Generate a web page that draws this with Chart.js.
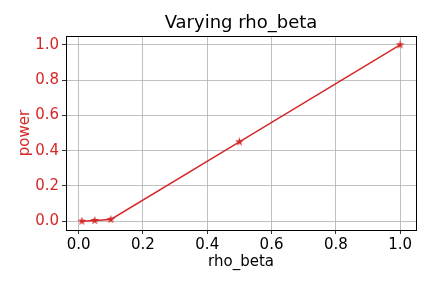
<!DOCTYPE html>
<html>
<head>
<meta charset="utf-8">
<script src="https://cdn.jsdelivr.net/npm/chart.js@4"></script>
<style>
    body { margin: 0; background: #ffffff; }
    #wrap { width: 432px; height: 288px; }
</style>
</head>
<body>
<div id="wrap"><canvas id="myChart" width="432" height="288"></canvas></div>
<script>
let rhoBeta = [0.01, 0.05, 0.1, 0.5, 1.0];
let power = [0.0, 0.004, 0.01, 0.45, 1.0];
let xTicks = [0.0, 0.2, 0.4, 0.6, 0.8, 1.0];
let yTicks = [0.0, 0.2, 0.4, 0.6, 0.8, 1.0];

let red = '#d62728';
let fontName = 'DejaVu Sans';

function makeStar(size, color) {
    let c = document.createElement('canvas');
    c.width = size;
    c.height = size;
    let g = c.getContext('2d');
    let cx = size / 2, cy = size / 2;
    let outer = size / 2, inner = outer * 0.38;
    g.beginPath();
    for (let k = 0; k < 10; k++) {
        let r = k % 2 == 0 ? outer : inner;
        let a = -Math.PI / 2 + k * Math.PI / 5;
        let px = cx + r * Math.cos(a);
        let py = cy + r * Math.sin(a);
        if (k == 0) g.moveTo(px, py); else g.lineTo(px, py);
    }
    g.closePath();
    g.fillStyle = color;
    g.fill();
    return c;
}

// frame around the plot area like matplotlib axes spines
let frame = {
    id: 'frame',
    afterDatasetsDraw(chart) {
        let a = chart.chartArea;
        let ctx = chart.ctx;
        ctx.save();
        ctx.strokeStyle = '#000000';
        ctx.lineWidth = 1;
        ctx.strokeRect(Math.round(a.left) + 0.5, Math.round(a.top) + 0.5, Math.round(a.right - a.left), Math.round(a.bottom - a.top));
        ctx.restore();
    }
};

function init() {
    let points = [];
    for (let i = 0; i < rhoBeta.length; i++) {
        points.push({ x: rhoBeta[i], y: power[i] });
    }
    let star = makeStar(9, red);

    new Chart(document.getElementById('myChart'), {
        type: 'scatter',
        data: {
            datasets: [{
                data: points,
                showLine: true,
                borderColor: red,
                borderWidth: 1.5,
                pointStyle: star,
                pointRadius: 4,
                pointHoverRadius: 4
            }]
        },
        options: {
            responsive: false,
            animation: false,
            layout: { padding: { left: 0, right: 16, top: 0, bottom: 0 } },
            plugins: {
                legend: { display: false },
                tooltip: { enabled: false },
                title: {
                    display: true,
                    fullSize: false,
                    text: 'Varying rho_beta',
                    color: '#000000',
                    font: { family: fontName, size: 18, weight: 'normal' },
                    padding: { top: 13, bottom: 1.4 }
                }
            },
            scales: {
                x: {
                    type: 'linear',
                    min: -0.0395,
                    max: 1.0495,
                    afterFit: function (scale) { scale.height = 58; },
                    afterBuildTicks: function (scale) { scale.ticks = xTicks.map(v => ({ value: v })); },
                    ticks: {
                        color: '#000000',
                        font: { family: fontName, size: 15 },
                        padding: 2,
                        maxRotation: 0,
                        callback: v => v.toFixed(1)
                    },
                    grid: { color: '#b0b0b0', lineWidth: 0.8, tickLength: 4, tickColor: '#000000' },
                    border: { display: false },
                    title: {
                        display: true,
                        text: 'rho_beta',
                        color: '#000000',
                        font: { family: fontName, size: 15 },
                        padding: { top: 0, bottom: 17 }
                    }
                },
                y: {
                    type: 'linear',
                    min: -0.05,
                    max: 1.05,
                    afterFit: function (scale) { scale.width = 66; },
                    afterBuildTicks: function (scale) { scale.ticks = yTicks.map(v => ({ value: v })); },
                    ticks: {
                        color: red,
                        font: { family: fontName, size: 15 },
                        padding: 3,
                        callback: v => v.toFixed(1)
                    },
                    grid: { color: '#b0b0b0', lineWidth: 0.8, tickLength: 4, tickColor: '#000000' },
                    border: { display: false },
                    title: {
                        display: true,
                        text: 'power',
                        color: red,
                        font: { family: fontName, size: 15 },
                        padding: { top: 16, bottom: 0 }
                    }
                }
            }
        },
        plugins: [frame]
    });
}

init();
</script>
</body>
</html>
